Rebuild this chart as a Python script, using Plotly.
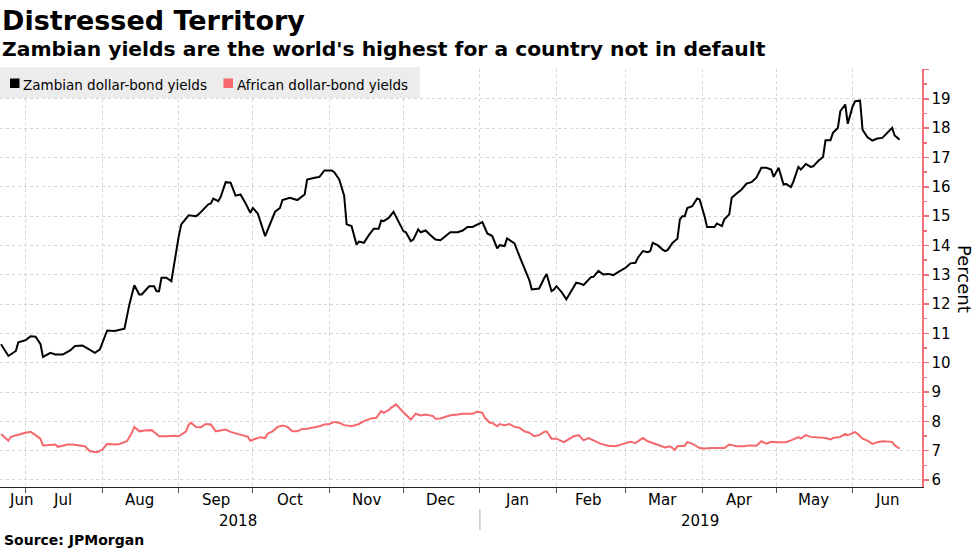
import plotly.graph_objects as go

# ---------------- data ----------------
zambia_dates = [
    "2018-06-21", "2018-06-24", "2018-06-27", "2018-06-28", "2018-07-01", "2018-07-03", "2018-07-05",
    "2018-07-07", "2018-07-08", "2018-07-11", "2018-07-13", "2018-07-16", "2018-07-19", "2018-07-21",
    "2018-07-24", "2018-07-26", "2018-07-29", "2018-07-31", "2018-08-03", "2018-08-06", "2018-08-10",
    "2018-08-12", "2018-08-14", "2018-08-16", "2018-08-17", "2018-08-20", "2018-08-22", "2018-08-23",
    "2018-08-24", "2018-08-25", "2018-08-27", "2018-08-29", "2018-08-30", "2018-09-01", "2018-09-02",
    "2018-09-05", "2018-09-08", "2018-09-09", "2018-09-11", "2018-09-13", "2018-09-14", "2018-09-15",
    "2018-09-17", "2018-09-18", "2018-09-20", "2018-09-22", "2018-09-24", "2018-09-26", "2018-09-28",
    "2018-09-30", "2018-10-01", "2018-10-03", "2018-10-06", "2018-10-08", "2018-10-10", "2018-10-12",
    "2018-10-13", "2018-10-16", "2018-10-19", "2018-10-22", "2018-10-23", "2018-10-26", "2018-10-28",
    "2018-10-30", "2018-11-02", "2018-11-03", "2018-11-05", "2018-11-07", "2018-11-08", "2018-11-10",
    "2018-11-12", "2018-11-13", "2018-11-15", "2018-11-17", "2018-11-19", "2018-11-21", "2018-11-22",
    "2018-11-23", "2018-11-25", "2018-11-27", "2018-11-29", "2018-12-01", "2018-12-02", "2018-12-04",
    "2018-12-05", "2018-12-07", "2018-12-08", "2018-12-10", "2018-12-12", "2018-12-14", "2018-12-16",
    "2018-12-18", "2018-12-20", "2018-12-23", "2018-12-25", "2018-12-27", "2018-12-29", "2019-01-02",
    "2019-01-04", "2019-01-06", "2019-01-08", "2019-01-09", "2019-01-11", "2019-01-12", "2019-01-14",
    "2019-01-15", "2019-01-17", "2019-01-20", "2019-01-21", "2019-01-22", "2019-01-25", "2019-01-27",
    "2019-01-28", "2019-01-30", "2019-01-31", "2019-02-01", "2019-02-03", "2019-02-05", "2019-02-07",
    "2019-02-09", "2019-02-11", "2019-02-12", "2019-02-15", "2019-02-16", "2019-02-18", "2019-02-20",
    "2019-02-22", "2019-02-24", "2019-02-26", "2019-03-01", "2019-03-03", "2019-03-05", "2019-03-06",
    "2019-03-08", "2019-03-10", "2019-03-11", "2019-03-12", "2019-03-14", "2019-03-16", "2019-03-17",
    "2019-03-18", "2019-03-20", "2019-03-22", "2019-03-23", "2019-03-24", "2019-03-25", "2019-03-26",
    "2019-03-28", "2019-03-30", "2019-03-31", "2019-04-02", "2019-04-03", "2019-04-06", "2019-04-07",
    "2019-04-09", "2019-04-10", "2019-04-12", "2019-04-13", "2019-04-15", "2019-04-17", "2019-04-19",
    "2019-04-21", "2019-04-23", "2019-04-25", "2019-04-27", "2019-04-29", "2019-04-30", "2019-05-02",
    "2019-05-04", "2019-05-05", "2019-05-07", "2019-05-08", "2019-05-10", "2019-05-11", "2019-05-13",
    "2019-05-15", "2019-05-16", "2019-05-18", "2019-05-20", "2019-05-21", "2019-05-23", "2019-05-24",
    "2019-05-26", "2019-05-27", "2019-05-29", "2019-05-30", "2019-06-01", "2019-06-02", "2019-06-04",
    "2019-06-05", "2019-06-07", "2019-06-09", "2019-06-11", "2019-06-13", "2019-06-15", "2019-06-17",
    "2019-06-18", "2019-06-20",
]
zambia_yields = [
    10.63, 10.23, 10.40, 10.70, 10.77, 10.90, 10.89,
    10.63, 10.20, 10.34, 10.28, 10.28, 10.42, 10.57,
    10.59, 10.48, 10.34, 10.45, 11.10, 11.08, 11.16,
    11.99, 12.64, 12.33, 12.33, 12.61, 12.61, 12.44,
    12.44, 12.90, 12.90, 12.78, 13.35, 14.32, 14.72,
    15.03, 15.00, 15.06, 15.23, 15.40, 15.43, 15.60,
    15.51, 15.66, 16.16, 16.14, 15.70, 15.74, 15.45,
    15.11, 15.28, 15.09, 14.32, 14.77, 15.15, 15.28,
    15.55, 15.63, 15.55, 15.74, 16.25, 16.31, 16.34,
    16.56, 16.56, 16.50, 16.25, 15.70, 14.72, 14.66,
    14.03, 14.13, 14.09, 14.35, 14.57, 14.57, 14.85,
    14.83, 14.94, 15.15, 14.80, 14.49, 14.45, 14.15,
    14.20, 14.55, 14.45, 14.51, 14.35, 14.20, 14.18,
    14.32, 14.45, 14.45, 14.51, 14.63, 14.63, 14.80,
    14.41, 14.32, 13.90, 14.01, 13.98, 14.24, 14.13,
    14.07, 13.64, 12.98, 12.82, 12.50, 12.53, 12.88,
    13.03, 12.44, 12.50, 12.61, 12.42, 12.16, 12.44,
    12.73, 12.69, 12.65, 12.92, 12.93, 13.13, 13.01,
    13.03, 12.99, 13.09, 13.24, 13.39, 13.41, 13.58,
    13.81, 13.77, 13.81, 14.09, 14.01, 13.86, 13.81,
    13.84, 14.09, 14.23, 14.89, 15.00, 15.00, 15.28,
    15.34, 15.60, 15.57, 15.00, 14.63, 14.63, 14.75,
    14.66, 14.89, 15.06, 15.63, 15.77, 15.91, 16.11,
    16.16, 16.31, 16.65, 16.65, 16.59, 16.34, 16.65,
    16.08, 16.10, 15.99, 16.19, 16.68, 16.59, 16.78,
    16.68, 16.70, 16.88, 17.02, 17.59, 17.59, 17.84,
    18.01, 18.58, 18.81, 18.15, 18.75, 18.92, 18.94,
    17.95, 17.69, 17.58, 17.65, 17.67, 17.84, 18.01,
    17.75, 17.61,
]

africa_dates = [
    "2018-06-21", "2018-06-22", "2018-06-24", "2018-06-25", "2018-06-27", "2018-06-29", "2018-07-01",
    "2018-07-03", "2018-07-05", "2018-07-07", "2018-07-08", "2018-07-11", "2018-07-13", "2018-07-14",
    "2018-07-16", "2018-07-18", "2018-07-20", "2018-07-23", "2018-07-25", "2018-07-27", "2018-07-30",
    "2018-08-01", "2018-08-03", "2018-08-06", "2018-08-08", "2018-08-11", "2018-08-13", "2018-08-14",
    "2018-08-16", "2018-08-18", "2018-08-21", "2018-08-23", "2018-08-24", "2018-08-27", "2018-08-30",
    "2018-09-01", "2018-09-04", "2018-09-05", "2018-09-06", "2018-09-08", "2018-09-10", "2018-09-12",
    "2018-09-14", "2018-09-16", "2018-09-18", "2018-09-20", "2018-09-22", "2018-09-25", "2018-09-27",
    "2018-09-29", "2018-09-30", "2018-10-02", "2018-10-04", "2018-10-06", "2018-10-07", "2018-10-09",
    "2018-10-11", "2018-10-13", "2018-10-15", "2018-10-17", "2018-10-19", "2018-10-21", "2018-10-23",
    "2018-10-26", "2018-10-28", "2018-10-30", "2018-11-01", "2018-11-03", "2018-11-05", "2018-11-07",
    "2018-11-10", "2018-11-13", "2018-11-15", "2018-11-18", "2018-11-20", "2018-11-22", "2018-11-23",
    "2018-11-25", "2018-11-26", "2018-11-28", "2018-11-29", "2018-12-01", "2018-12-04", "2018-12-06",
    "2018-12-08", "2018-12-10", "2018-12-13", "2018-12-14", "2018-12-16", "2018-12-18", "2018-12-20",
    "2018-12-23", "2018-12-25", "2018-12-29", "2018-12-31", "2019-01-02", "2019-01-03", "2019-01-05",
    "2019-01-06", "2019-01-08", "2019-01-09", "2019-01-11", "2019-01-13", "2019-01-15", "2019-01-17",
    "2019-01-19", "2019-01-21", "2019-01-23", "2019-01-25", "2019-01-27", "2019-01-28", "2019-01-30",
    "2019-02-01", "2019-02-04", "2019-02-06", "2019-02-08", "2019-02-10", "2019-02-12", "2019-02-14",
    "2019-02-17", "2019-02-19", "2019-02-22", "2019-02-25", "2019-02-28", "2019-03-03", "2019-03-05",
    "2019-03-08", "2019-03-10", "2019-03-12", "2019-03-14", "2019-03-17", "2019-03-19", "2019-03-21",
    "2019-03-22", "2019-03-25", "2019-03-26", "2019-03-28", "2019-03-31", "2019-04-02", "2019-04-05",
    "2019-04-07", "2019-04-10", "2019-04-12", "2019-04-15", "2019-04-18", "2019-04-20", "2019-04-23",
    "2019-04-25", "2019-04-27", "2019-04-29", "2019-05-02", "2019-05-05", "2019-05-07", "2019-05-10",
    "2019-05-11", "2019-05-13", "2019-05-15", "2019-05-18", "2019-05-21", "2019-05-23", "2019-05-24",
    "2019-05-27", "2019-05-29", "2019-05-30", "2019-06-02", "2019-06-03", "2019-06-05", "2019-06-07",
    "2019-06-09", "2019-06-11", "2019-06-13", "2019-06-17", "2019-06-18", "2019-06-20",
]
africa_yields = [
    7.57, 7.49, 7.34, 7.47, 7.53, 7.57, 7.61,
    7.64, 7.53, 7.40, 7.18, 7.21, 7.21, 7.13,
    7.17, 7.21, 7.21, 7.18, 7.15, 6.98, 6.95,
    7.03, 7.23, 7.21, 7.23, 7.32, 7.61, 7.81,
    7.66, 7.69, 7.70, 7.57, 7.49, 7.49, 7.51,
    7.49, 7.66, 7.89, 7.95, 7.81, 7.80, 7.91,
    7.89, 7.66, 7.70, 7.72, 7.64, 7.57, 7.53,
    7.47, 7.34, 7.41, 7.46, 7.43, 7.58, 7.66,
    7.81, 7.86, 7.81, 7.66, 7.66, 7.74, 7.75,
    7.80, 7.83, 7.89, 7.91, 7.98, 7.95, 7.87,
    7.83, 7.91, 8.01, 8.10, 8.12, 8.35, 8.29,
    8.38, 8.46, 8.58, 8.50, 8.31, 8.06, 8.26,
    8.20, 8.23, 8.18, 8.09, 8.10, 8.15, 8.21,
    8.23, 8.26, 8.26, 8.33, 8.29, 8.12, 7.95,
    7.95, 7.83, 7.91, 7.87, 7.91, 7.81, 7.78,
    7.66, 7.61, 7.49, 7.53, 7.64, 7.66, 7.41,
    7.41, 7.29, 7.38, 7.49, 7.53, 7.35, 7.43,
    7.32, 7.23, 7.17, 7.15, 7.23, 7.30, 7.26,
    7.43, 7.32, 7.26, 7.18, 7.11, 7.15, 7.03,
    7.15, 7.17, 7.29, 7.24, 7.09, 7.07, 7.09,
    7.09, 7.09, 7.21, 7.15, 7.15, 7.18, 7.17,
    7.32, 7.24, 7.30, 7.29, 7.29, 7.35, 7.46,
    7.41, 7.53, 7.47, 7.46, 7.43, 7.38, 7.43,
    7.47, 7.57, 7.53, 7.63, 7.57, 7.41, 7.34,
    7.23, 7.29, 7.32, 7.30, 7.18, 7.07,
]

month_starts = ["2018-07-01", "2018-08-01", "2018-09-01", "2018-10-01", "2018-11-01", "2018-12-01",
                "2019-01-01", "2019-02-01", "2019-03-01", "2019-04-01", "2019-05-01", "2019-06-01"]
month_labels = ["Jun", "Jul", "Aug", "Sep", "Oct", "Nov", "Dec", "Jan", "Feb", "Mar", "Apr", "May", "Jun"]
month_label_dates = ["2018-06-29", "2018-07-16", "2018-08-16", "2018-09-16", "2018-10-16", "2018-11-16",
                     "2018-12-16", "2019-01-16", "2019-02-14", "2019-03-16", "2019-04-16", "2019-05-16",
                     "2019-06-15"]
year_labels = ["2018", "2019"]
year_label_dates = ["2018-09-25", "2019-03-31"]
year_divider = "2019-01-01"
y_ticks = [6, 7, 8, 9, 10, 11, 12, 13, 14, 15, 16, 17, 18, 19, 20]
y_ticktext = ["6", "7", "8", "9", "10", "11", "12", "13", "14", "15", "16", "17", "18", "19", ""]

# ---------------- style ----------------
FONT = "DejaVu Sans"
BLACK = "#000000"
RED = "#f5686c"
AXIS_RED = "#f0707a"
GRID = "#d4d4d4"
W, H = 977, 549
ML, MR, MT, MB = 0, 55, 69, 62
PW, PH = W - ML - MR, H - MT - MB


def px_x(p):
    return p / PW


def px_y(p):
    return (H - MB - p) / PH


fig = go.Figure()
fig.add_trace(go.Scatter(x=zambia_dates, y=zambia_yields, mode="lines",
                         line=dict(color=BLACK, width=2), name="Zambian dollar-bond yields",
                         showlegend=False))
fig.add_trace(go.Scatter(x=africa_dates, y=africa_yields, mode="lines",
                         line=dict(color=RED, width=2), name="African dollar-bond yields",
                         showlegend=False))

annotations = []
# titles
annotations.append(dict(text="<b>Distressed Territory</b>", xref="paper", yref="paper",
                        x=0, y=px_y(20.7), xanchor="left", yanchor="middle", showarrow=False,
                        font=dict(family=FONT, size=27, color="#000")))
annotations.append(dict(text="<b>Zambian yields are the world's highest for a country not in default</b>",
                        xref="paper", yref="paper", x=0, y=px_y(49.1), xanchor="left", yanchor="middle",
                        showarrow=False, font=dict(family=FONT, size=20.3, color="#000")))
# legend texts
annotations.append(dict(text="Zambian dollar-bond yields", xref="paper", yref="paper",
                        x=px_x(21), y=px_y(84.6), xanchor="left", yanchor="middle", showarrow=False,
                        font=dict(family=FONT, size=13.5, color="#000")))
annotations.append(dict(text="African dollar-bond yields", xref="paper", yref="paper",
                        x=px_x(235), y=px_y(84.6), xanchor="left", yanchor="middle", showarrow=False,
                        font=dict(family=FONT, size=13.5, color="#000")))
# month labels
for d, lab in zip(month_label_dates, month_labels):
    annotations.append(dict(text=lab, xref="x", yref="paper", x=d, y=0, yshift=-13,
                            xanchor="center", yanchor="middle", showarrow=False,
                            font=dict(family=FONT, size=15, color="#000")))
for d, lab in zip(year_label_dates, year_labels):
    annotations.append(dict(text=lab, xref="x", yref="paper", x=d, y=0, yshift=-34,
                            xanchor="center", yanchor="middle", showarrow=False,
                            font=dict(family=FONT, size=15, color="#000")))
# source
annotations.append(dict(text="<b>Source: JPMorgan</b>", xref="paper", yref="paper", x=0, y=0,
                        yshift=-53, xshift=2, xanchor="left", yanchor="middle", showarrow=False,
                        font=dict(family=FONT, size=14, color="#000")))
# y axis title
annotations.append(dict(text="Percent", xref="paper", yref="paper", x=px_x(965), y=px_y(279),
                        xanchor="center", yanchor="middle", textangle=90, showarrow=False,
                        font=dict(family=FONT, size=18, color="#000")))

shapes = [
    dict(type="rect", xref="paper", yref="paper", x0=0, x1=px_x(420), y0=px_y(98), y1=px_y(67),
         fillcolor="#ececec", line=dict(width=0), layer="above"),
    dict(type="rect", xref="paper", yref="paper", x0=px_x(10), x1=px_x(19.5), y0=px_y(88), y1=px_y(78.5),
         fillcolor=BLACK, line=dict(width=0), layer="above"),
    dict(type="rect", xref="paper", yref="paper", x0=px_x(223.5), x1=px_x(233), y0=px_y(88), y1=px_y(78.5),
         fillcolor=RED, line=dict(width=0), layer="above"),
    dict(type="line", xref="x", yref="paper", x0=year_divider, x1=year_divider,
         y0=px_y(509), y1=px_y(530), line=dict(color="#aaaaaa", width=1)),
]

fig.update_layout(
    width=W, height=H,
    margin=dict(l=ML, r=MR, t=MT, b=MB),
    paper_bgcolor="white", plot_bgcolor="white",
    font=dict(family=FONT, size=15, color="#000"),
    showlegend=False,
    hovermode=False,
    annotations=annotations,
    shapes=shapes,
    xaxis=dict(
        type="date",
        range=["2018-06-20 14:00", "2019-06-29 02:00"],
        tickvals=month_starts,
        showticklabels=False,
        ticks="outside", ticklen=5, tickcolor="#555555", tickwidth=1,
        showgrid=True, gridcolor=GRID, griddash="dot", gridwidth=1,
        showline=True, linecolor="#222222", linewidth=1,
        zeroline=False,
    ),
    yaxis=dict(
        side="right",
        range=[5.76, 20.02],
        tickvals=y_ticks, ticktext=y_ticktext,
        ticks="outside", ticklen=5, tickcolor=AXIS_RED, tickwidth=1.5,
        minor=dict(dtick=0.5, tick0=6, ticks="outside", ticklen=3, tickcolor=AXIS_RED, showgrid=False),
        showgrid=True, gridcolor=GRID, griddash="dot", gridwidth=1,
        showline=True, linecolor=AXIS_RED, linewidth=1.5,
        zeroline=False,
        tickfont=dict(family=FONT, size=15, color="#000"),
    ),
)

fig.write_html(
    "out.html",
    config={"displayModeBar": False, "staticPlot": True},
    post_script="document.body.style.margin='0px';document.body.style.padding='0px';"
                "document.body.style.overflow='hidden';",
)
